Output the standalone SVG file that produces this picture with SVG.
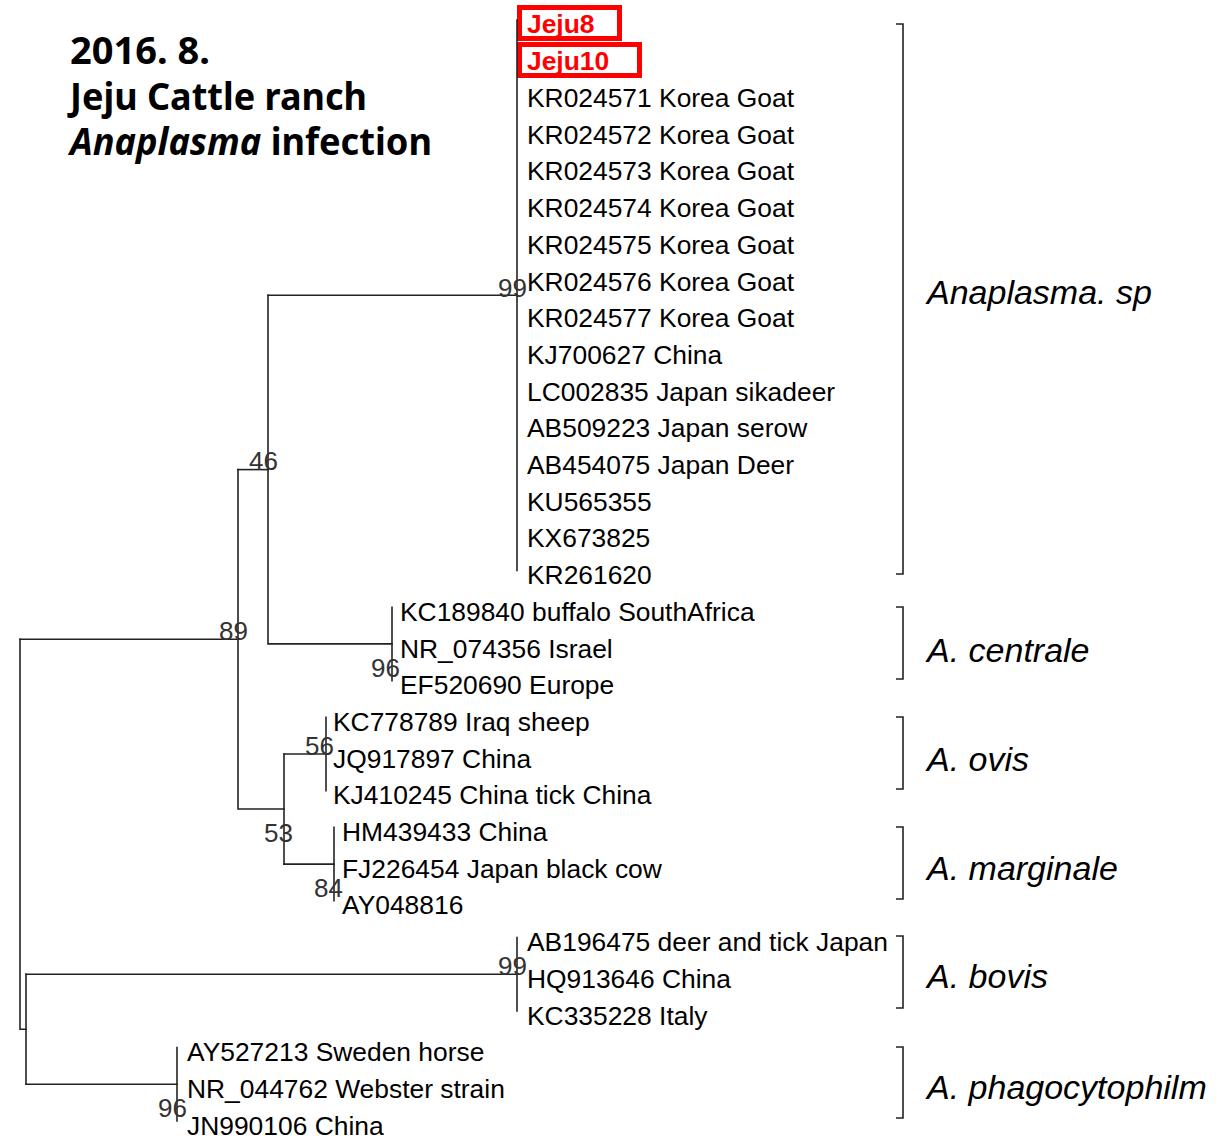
<svg xmlns="http://www.w3.org/2000/svg" width="1222" height="1140" viewBox="0 0 1222 1140">
  <style>
    .lbl { font-family: "Liberation Sans", Arial, sans-serif; font-size: 26.4px; fill: #000; }
    .bs { font-family: "Liberation Sans", Arial, sans-serif; font-size: 26px; fill: #333; text-anchor: end; }
    .clade { font-family: "Liberation Sans", Arial, sans-serif; font-size: 34px; font-style: italic; fill: #000; }
    .title { font-family: "Noto Sans", "Open Sans", sans-serif; font-weight: bold; font-size: 38px; fill: #000; }
    .tree { stroke: #222; stroke-width: 1.6; fill: none; stroke-linecap: square; }
    .brk { stroke: #222; stroke-width: 1.6; fill: none; }
    .hl rect { fill: none; stroke: #f00; stroke-width: 5; }
    .hl text { fill: #f00; font-weight: bold; }
  </style>
  <rect width="1222" height="1140" fill="#fff"/>

  <!-- title block -->
  <g id="title" class="title">
    <text x="70" y="64">2016. 8.</text>
    <text x="70" y="110" textLength="297" lengthAdjust="spacingAndGlyphs">Jeju Cattle ranch</text>
    <text x="70" y="155" textLength="362" lengthAdjust="spacingAndGlyphs"><tspan font-style="italic">Anaplasma</tspan> infection</text>
  </g>

  <!-- highlighted samples -->
  <g id="leaf-jeju8" class="hl">
    <rect x="519.5" y="7.5" width="100" height="31"/>
    <text class="lbl" x="527" y="33">Jeju8</text>
  </g>
  <g id="leaf-jeju10" class="hl">
    <rect x="519.5" y="44.5" width="120" height="31"/>
    <text class="lbl" x="527" y="70">Jeju10</text>
  </g>

  <!-- branches -->
  <g id="connectors" class="tree">
    <path d="M517 20 V570.5"/>
    <path d="M268 295.25 H517"/>
    <path d="M268 295.25 V643.9 H392"/>
    <path d="M392 607.2 V680.6"/>
    <path d="M238 469.6 H268"/>
    <path d="M238 469.6 V809 H284"/>
    <path d="M284 754 V864.1"/>
    <path d="M284 754 H326"/>
    <path d="M326 717.3 V790.7"/>
    <path d="M284 864.1 H334"/>
    <path d="M334 827.4 V900.8"/>
    <path d="M20 639.3 H238"/>
    <path d="M20 639.3 V1029.25 H26"/>
    <path d="M26 974.2 V1084.3"/>
    <path d="M26 974.2 H517"/>
    <path d="M517 937.5 V1010.9"/>
    <path d="M26 1084.3 H177"/>
    <path d="M177 1047.6 V1121"/>
  </g>

  <!-- bootstrap values -->
  <g id="bootstrap" class="bs">
    <text x="527" y="297">99</text>
    <text x="278" y="470">46</text>
    <text x="248" y="640">89</text>
    <text x="400" y="677">96</text>
    <text x="334" y="755">56</text>
    <text x="293" y="842">53</text>
    <text x="343" y="897">84</text>
    <text x="527" y="975">99</text>
    <text x="187" y="1117">96</text>
  </g>

  <!-- taxa -->
  <g id="leaves-sp" class="lbl">
    <text x="527" y="107">KR024571 Korea Goat</text>
    <text x="527" y="143.7">KR024572 Korea Goat</text>
    <text x="527" y="180.4">KR024573 Korea Goat</text>
    <text x="527" y="217.1">KR024574 Korea Goat</text>
    <text x="527" y="253.8">KR024575 Korea Goat</text>
    <text x="527" y="290.5">KR024576 Korea Goat</text>
    <text x="527" y="327.2">KR024577 Korea Goat</text>
    <text x="527" y="363.9">KJ700627 China</text>
    <text x="527" y="400.6">LC002835 Japan sikadeer</text>
    <text x="527" y="437.3">AB509223 Japan serow</text>
    <text x="527" y="474">AB454075 Japan Deer</text>
    <text x="527" y="510.7">KU565355</text>
    <text x="527" y="547.4">KX673825</text>
    <text x="527" y="584.1">KR261620</text>
  </g>
  <g id="leaves-centrale" class="lbl">
    <text x="400" y="620.8">KC189840 buffalo SouthAfrica</text>
    <text x="400" y="657.5">NR_074356 Israel</text>
    <text x="400" y="694.2">EF520690 Europe</text>
  </g>
  <g id="leaves-ovis" class="lbl">
    <text x="333" y="730.9">KC778789 Iraq sheep</text>
    <text x="333" y="767.6">JQ917897 China</text>
    <text x="333" y="804.3">KJ410245 China tick China</text>
  </g>
  <g id="leaves-marginale" class="lbl">
    <text x="342" y="841">HM439433 China</text>
    <text x="342" y="877.7">FJ226454 Japan black cow</text>
    <text x="342" y="914.4">AY048816</text>
  </g>
  <g id="leaves-bovis" class="lbl">
    <text x="527" y="951.1">AB196475 deer and tick Japan</text>
    <text x="527" y="987.8">HQ913646 China</text>
    <text x="527" y="1024.5">KC335228 Italy</text>
  </g>
  <g id="leaves-phago" class="lbl">
    <text x="187" y="1061.2">AY527213 Sweden horse</text>
    <text x="187" y="1097.9">NR_044762 Webster strain</text>
    <text x="187" y="1134.6">JN990106 China</text>
  </g>

  <!-- clade brackets -->
  <g id="clade-sp">
    <path class="brk" d="M896 24 H903 V574 H896"/>
    <text class="clade" x="927" y="304">Anaplasma. sp</text>
  </g>
  <g id="clade-centrale">
    <path class="brk" d="M896 607 H903 V679 H896"/>
    <text class="clade" x="927" y="662">A. centrale</text>
  </g>
  <g id="clade-ovis">
    <path class="brk" d="M896 717 H903 V789 H896"/>
    <text class="clade" x="927" y="771">A. ovis</text>
  </g>
  <g id="clade-marginale">
    <path class="brk" d="M896 827 H903 V899 H896"/>
    <text class="clade" x="927" y="880">A. marginale</text>
  </g>
  <g id="clade-bovis">
    <path class="brk" d="M896 936 H903 V1008 H896"/>
    <text class="clade" x="927" y="988">A. bovis</text>
  </g>
  <g id="clade-phago">
    <path class="brk" d="M896 1047 H903 V1118 H896"/>
    <text class="clade" x="927" y="1099">A. phagocytophilm</text>
  </g>
</svg>
